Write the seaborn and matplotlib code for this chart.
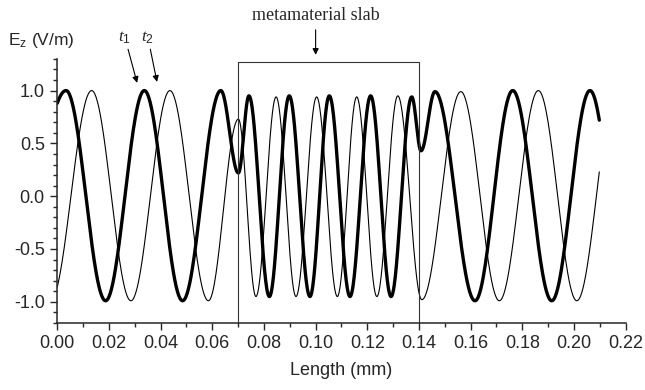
import numpy as np
import pandas as pd
import matplotlib
matplotlib.use("Agg")
import matplotlib.pyplot as plt
from matplotlib.ticker import MultipleLocator, FormatStrFormatter
import seaborn as sns

# extrema (and end points) of the two field snapshots
t1_x = [0.0, 0.0034, 0.0187, 0.0337, 0.0485, 0.0633, 0.0701, 0.0742, 0.0821,
        0.0898, 0.0978, 0.1053, 0.1133, 0.1213, 0.1292, 0.1372, 0.1408, 0.1462,
        0.1617, 0.1763, 0.1914, 0.2062, 0.2098]
t1_y = [0.88, 1.0, -0.99, 1.0, -0.99, 1.0, 0.22, 0.95, -0.95, 0.95, -0.95, 0.95,
        -0.95, 0.95, -0.95, 0.94, 0.43, 0.99, -0.99, 1.0, -0.99, 1.0, 0.72]

t2_x = [0.0, 0.0133, 0.0285, 0.0436, 0.0585, 0.0701, 0.0769, 0.0847, 0.0924,
        0.1004, 0.1084, 0.1159, 0.1237, 0.1318, 0.1411, 0.1562, 0.1711, 0.1862,
        0.2011, 0.2098]
t2_y = [-0.86, 1.0, -0.99, 1.0, -0.99, 0.73, -0.95, 0.94, -0.95, 0.94, -0.95,
        0.94, -0.95, 0.95, -0.98, 0.99, -0.99, 1.0, -0.99, 0.23]

slab_start = 0.07
slab_end = 0.14
slab_top = 1.274


def wave(xs, ys, n=60):
    # half-cosine shape between neighbouring extrema
    px, py = [], []
    last = len(xs) - 2
    for i in range(len(xs) - 1):
        x0, x1, y0, y1 = xs[i], xs[i + 1], ys[i], ys[i + 1]
        t = np.linspace(0, 1, n)
        if i == 0:
            f = np.arccos(np.clip(y0 / y1, -1, 1)) / np.pi
            y = y1 * np.cos(np.pi * f * (1 - t))
        elif i == last:
            f = np.arccos(np.clip(y1 / y0, -1, 1)) / np.pi
            y = y0 * np.cos(np.pi * f * t)
        else:
            y = y0 + (y1 - y0) * (1 - np.cos(np.pi * t)) / 2
        px.extend(x0 + (x1 - x0) * t)
        py.extend(y)
    return pd.DataFrame({"x": px, "y": py})


sns.set_style("ticks")
plt.rcParams["font.family"] = ["Liberation Sans", "DejaVu Sans"]
plt.rcParams["axes.unicode_minus"] = False
plt.rcParams["mathtext.fontset"] = "custom"
plt.rcParams["mathtext.rm"] = "Liberation Sans"
plt.rcParams["mathtext.it"] = "Liberation Serif:italic"

fig = plt.figure(figsize=(6.45, 3.9), dpi=100)
ax = fig.add_subplot(111)
fig.subplots_adjust(left=0.0888, right=0.97, top=0.849, bottom=0.172)

sns.lineplot(data=wave(t2_x, t2_y), x="x", y="y", sort=False, estimator=None,
             color="black", linewidth=0.8, ax=ax)
sns.lineplot(data=wave(t1_x, t1_y), x="x", y="y", sort=False, estimator=None,
             color="black", linewidth=2.4, ax=ax)

# slab outline
ax.plot([slab_start, slab_start, slab_end, slab_end], [-1.2, slab_top, slab_top, -1.2],
        color="#333333", linewidth=0.8, clip_on=False)

ax.set_xlim(0, 0.22)
ax.set_ylim(-1.2, 1.3)
ax.xaxis.set_major_locator(MultipleLocator(0.02))
ax.xaxis.set_minor_locator(MultipleLocator(0.01))
ax.yaxis.set_major_locator(MultipleLocator(0.5))
ax.yaxis.set_minor_locator(MultipleLocator(0.1))
ax.xaxis.set_major_formatter(FormatStrFormatter("%.2f"))
ax.yaxis.set_major_formatter(FormatStrFormatter("%.1f"))
ax.tick_params(which="major", direction="out", length=5, width=1, labelsize=13, pad=4)
ax.tick_params(which="minor", direction="out", length=3, width=1)
for s in ["top", "right"]:
    ax.spines[s].set_visible(False)
for s in ["left", "bottom"]:
    ax.spines[s].set_linewidth(1.1)

ax.set_xlabel("Length (mm)", fontsize=13, labelpad=7)
ax.set_ylabel("")
fig.text(8 / 645, 1 - 40 / 390, r"E$_\mathrm{z}$ (V/m)", fontsize=12.5, va="center", ha="left")

arrow = dict(arrowstyle="-|>", color="black", lw=0.8, mutation_scale=9, shrinkA=0, shrinkB=0)
ax.annotate(r"$t_\mathrm{1}$", xy=(0.0309, 1.073), xytext=(0.0262, 1.50), fontsize=12.5,
            ha="center", va="center", arrowprops=arrow, annotation_clip=False)
ax.annotate(r"$t_\mathrm{2}$", xy=(0.0386, 1.082), xytext=(0.0351, 1.50), fontsize=12.5,
            ha="center", va="center", arrowprops=arrow, annotation_clip=False)
ax.annotate("", xy=(0.100, 1.338), xytext=(0.100, 1.575),
            arrowprops=arrow, annotation_clip=False)
ax.text(0.100, 1.71, "metamaterial slab", fontsize=13, family="Liberation Serif",
        ha="center", va="center")

fig.savefig("out.png", dpi=100)
